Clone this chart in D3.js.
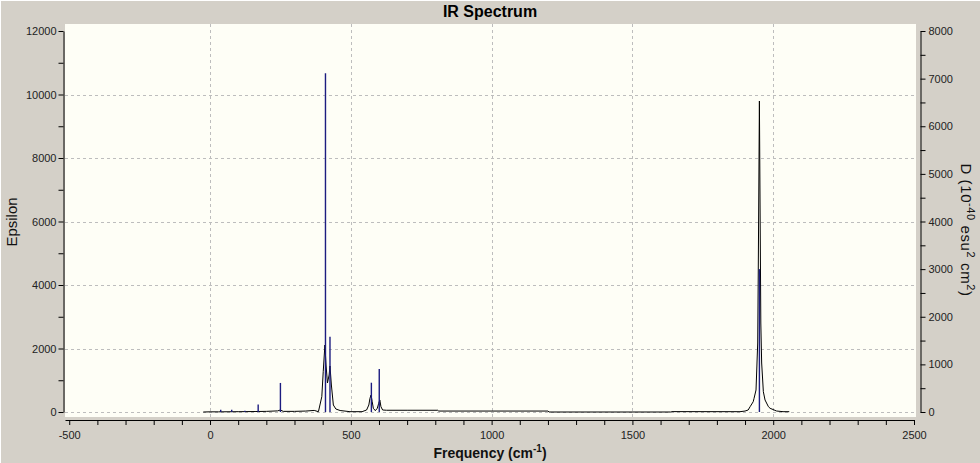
<!DOCTYPE html>
<html>
<head>
<meta charset="utf-8">
<script src="https://cdn.jsdelivr.net/npm/d3@7"></script>
<style>
  html, body { margin: 0; padding: 0; background: #d4d0c8; }
  svg { display: block; }
</style>
</head>
<body>
<svg id="chart" width="980" height="463"></svg>
<script>
// ---------- data ----------
const stickFreq = [38, 77, 124, 171, 250, 410, 426, 573, 601, 1951];
const stickD    = [49, 45, 25, 160, 610, 7112, 1580, 615, 903, 3000];

const curveFreq = [-24, 0, 30, 100, 160, 200, 240, 250, 260, 300, 340, 370, 385, 397, 402, 408, 412, 417, 423, 426, 431, 438, 447, 462, 497, 540,
                   556, 564, 568, 572, 576, 580, 587, 594, 599, 603, 607, 613, 627, 700, 809, 812, 1200, 1204, 1636, 1640,
                   1882, 1900, 1911, 1918, 1929, 1932, 1939, 1945, 1947, 1951, 1956, 1959, 1965, 1971, 1983, 1989, 2012, 2035, 2057];
const curveEps  = [0, 5, 5, 10, 15, 20, 35, 63, 20, 20, 30, 50, 10, 482, 1269, 2110, 1480, 913, 1165, 1449, 850, 220, 94, 47, 10, 10,
                   63, 220, 431, 535, 324, 117, 41, 117, 274, 378, 167, 63, 55, 55, 55, 30, 30, 0, 0, 12,
                   10, 30, 63, 167, 324, 431, 693, 2173, 4472, 9795, 2803, 1543, 639, 378, 167, 117, 31, 10, 10];

const xTickValues = [-500, 0, 500, 1000, 1500, 2000, 2500];
const yLeftTickValues = [0, 2000, 4000, 6000, 8000, 10000, 12000];
const yRightTickValues = [0, 1000, 2000, 3000, 4000, 5000, 6000, 7000, 8000];

// ---------- layout ----------
const svg = d3.select("#chart");
const W = 980, H = 463;
const plot = { left: 65, right: 916, top: 24, bottom: 417 };

const x = d3.scaleLinear().domain([-515, 2500]).range([65, 914]);
const yL = d3.scaleLinear().domain([0, 12000]).range([412, 31]);
const yR = d3.scaleLinear().domain([0, 8000]).range([412, 31]);

// window-like border
svg.append("rect").attr("x", 0).attr("y", 0).attr("width", W).attr("height", H).attr("fill", "#d4d0c8");
svg.append("line").attr("x1", 0.5).attr("x2", 0.5).attr("y1", 0).attr("y2", H).attr("stroke", "#ffffff");
svg.append("line").attr("x1", 0).attr("x2", W).attr("y1", 0.5).attr("y2", 0.5).attr("stroke", "#ffffff");

// plot background
svg.append("rect")
  .attr("x", plot.left).attr("y", plot.top)
  .attr("width", plot.right - plot.left).attr("height", plot.bottom - plot.top)
  .attr("fill", "#fefef6");

// grid
const grid = svg.append("g").attr("stroke", "#bdbdbd").attr("stroke-dasharray", "3,3").attr("stroke-width", 1);
[0, 500, 1000, 1500, 2000].forEach(v => {
  const px = Math.round(x(v)) + 0.5;
  grid.append("line").attr("x1", px).attr("x2", px).attr("y1", plot.top).attr("y2", plot.bottom);
});
[0, 2000, 4000, 6000, 8000, 10000].forEach(v => {
  const py = Math.round(yL(v)) + 0.5;
  grid.append("line").attr("x1", plot.left).attr("x2", plot.right).attr("y1", py).attr("y2", py);
});

// curve
const curveData = curveFreq.map((f, i) => [f, curveEps[i]]);
svg.append("path")
  .datum(curveData)
  .attr("fill", "none")
  .attr("stroke", "#000")
  .attr("stroke-width", 1)
  .attr("d", d3.line().x(d => x(d[0])).y(d => yL(d[1])));

// sticks
svg.append("g").selectAll("line")
  .data(stickFreq.map((f, i) => [f, stickD[i]]))
  .join("line")
  .attr("x1", d => x(d[0])).attr("x2", d => x(d[0]))
  .attr("y1", yR(0)).attr("y2", d => yR(d[1]))
  .attr("stroke", "#1c1c80")
  .attr("stroke-width", 1.4);

// axes
const tickFont = "'Liberation Sans Narrow', 'Liberation Sans', Arial, sans-serif";

const xAxis = d3.axisBottom(x)
  .tickValues(d3.range(-500, 2501, 100))
  .tickFormat(d => xTickValues.includes(d) ? String(d) : "")
  .tickSize(5).tickSizeOuter(0).tickPadding(6);
const gx = svg.append("g").attr("transform", "translate(0,420)").call(xAxis);

const yAxisL = d3.axisLeft(yL)
  .tickValues(d3.range(0, 12001, 1000))
  .tickFormat(d => yLeftTickValues.includes(d) ? String(d) : "")
  .tickSize(5).tickSizeOuter(0).tickPadding(2);
const gyl = svg.append("g").attr("transform", "translate(63.5,0)").call(yAxisL);

const yAxisR = d3.axisRight(yR)
  .tickValues(d3.range(0, 8001, 500))
  .tickFormat(d => yRightTickValues.includes(d) ? String(d) : "")
  .tickSize(5).tickSizeOuter(0).tickPadding(3);
const gyr = svg.append("g").attr("transform", "translate(920.5,0)").call(yAxisR);

[gx, gyl, gyr].forEach(g => {
  g.selectAll("text").attr("font-family", tickFont).attr("font-size", 11).attr("fill", "#222");
  g.selectAll("line").attr("stroke", "#000");
  g.select(".domain").attr("stroke", "#000");
});

// title
svg.append("text")
  .attr("x", 490).attr("y", 17)
  .attr("text-anchor", "middle")
  .attr("font-family", "'Liberation Sans', Arial, sans-serif")
  .attr("font-weight", "bold").attr("font-size", 16)
  .attr("fill", "#000")
  .text("IR Spectrum");

// x label
const xl = svg.append("text")
  .attr("x", 490).attr("y", 458)
  .attr("text-anchor", "middle")
  .attr("font-family", "'Liberation Sans', Arial, sans-serif")
  .attr("font-weight", "bold").attr("font-size", 14)
  .attr("fill", "#111");
xl.append("tspan").text("Frequency (cm");
xl.append("tspan").attr("font-size", 10).attr("dy", -6).text("-1");
xl.append("tspan").attr("dy", 6).text(")");

// left label
svg.append("text")
  .attr("transform", "translate(17,222) rotate(-90)")
  .attr("text-anchor", "middle")
  .attr("font-family", "'Liberation Sans', Arial, sans-serif")
  .attr("font-size", 15)
  .attr("fill", "#111")
  .text("Epsilon");

// right label
const rl = svg.append("text")
  .attr("transform", "translate(961,230) rotate(90)")
  .attr("text-anchor", "middle")
  .attr("font-family", "'Liberation Sans', Arial, sans-serif")
  .attr("font-size", 15)
  .attr("letter-spacing", 0.6)
  .attr("fill", "#111");
rl.append("tspan").text("D (10");
rl.append("tspan").attr("font-size", 11).attr("dy", -6).text("-40");
rl.append("tspan").attr("dy", 6).text(" esu");
rl.append("tspan").attr("font-size", 11).attr("dy", -6).text("2");
rl.append("tspan").attr("dy", 6).text(" cm");
rl.append("tspan").attr("font-size", 11).attr("dy", -6).text("2");
rl.append("tspan").attr("dy", 6).text(")");
</script>
</body>
</html>
